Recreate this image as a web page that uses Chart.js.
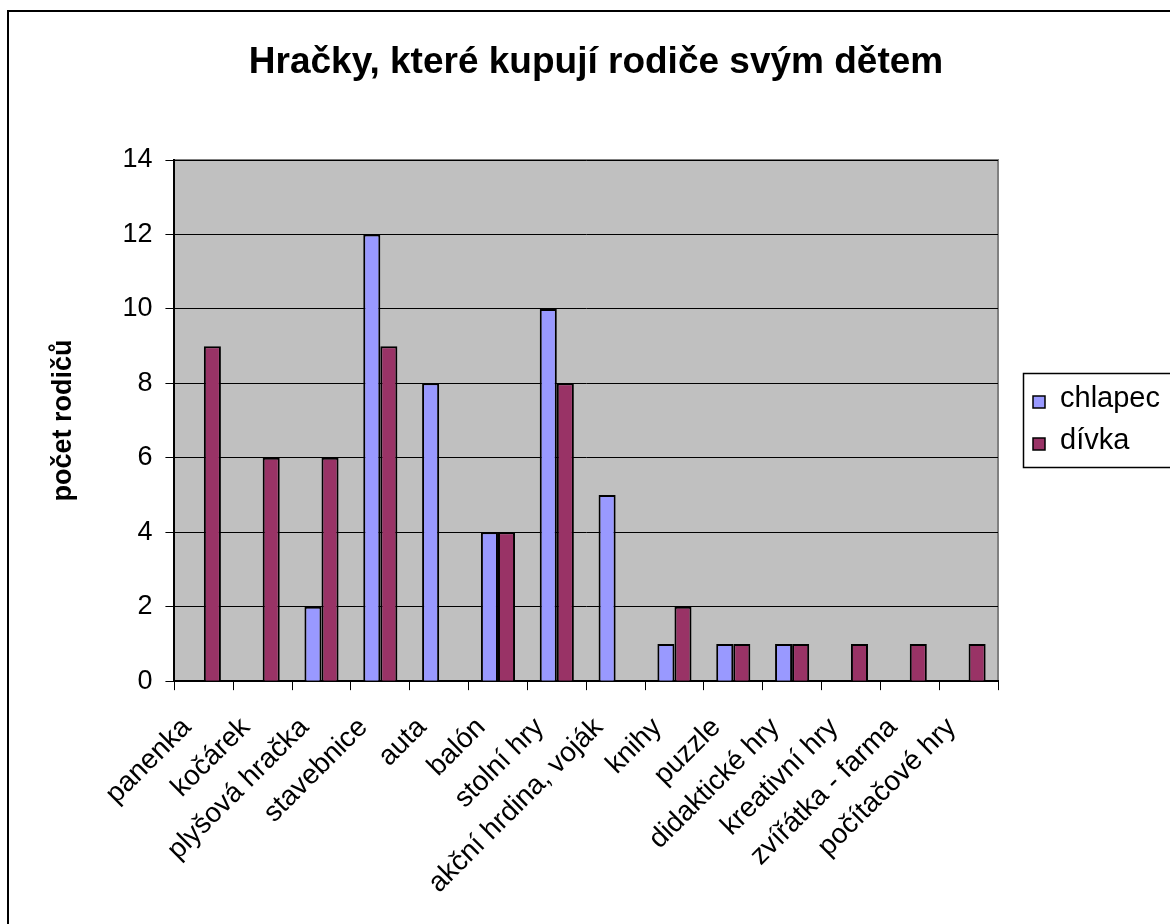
<!DOCTYPE html>
<html>
<head>
<meta charset="utf-8">
<script src="https://cdn.jsdelivr.net/npm/chart.js@4/dist/chart.umd.min.js"></script>
<style>
  html, body { margin: 0; padding: 0; background: #fff; overflow: hidden; }
  #wrap { width: 1170px; height: 924px; position: relative; }
</style>
</head>
<body>
<div id="wrap"><canvas id="toyChart" width="1170" height="924"></canvas></div>
<script>
// Data
const categories = ['panenka', 'kočárek', 'plyšová hračka', 'stavebnice', 'auta', 'balón',
    'stolní hry', 'akční hrdina, voják', 'knihy', 'puzzle', 'didaktické hry',
    'kreativní hry', 'zvířátka - farma', 'počítačové hry'];
const chlapec = [0, 0, 2, 12, 8, 4, 10, 5, 1, 1, 1, 0, 0, 0];
const divka = [9, 6, 6, 9, 0, 4, 8, 0, 2, 1, 1, 1, 1, 1];
const seriesNames = ['chlapec', 'dívka'];
const chartTitle = 'Hračky, které kupují rodiče svým dětem';
const yMin = 0, yMax = 14, yStep = 2;

const FONT = "'Liberation Sans', Arial, sans-serif";

// White page, outer frame, grey plot area
const backdrop = {
    id: 'backdrop',
    beforeDraw: function(chart) {
        const ctx = chart.ctx;
        const a = chart.chartArea;
        ctx.save();
        ctx.fillStyle = '#fff';
        ctx.fillRect(0, 0, chart.width, chart.height);
        ctx.strokeStyle = '#000';
        ctx.lineWidth = 2;
        ctx.beginPath();
        ctx.moveTo(8, chart.height + 5);
        ctx.lineTo(8, 11);
        ctx.lineTo(chart.width + 5, 11);
        ctx.stroke();
        ctx.fillStyle = '#c0c0c0';
        ctx.fillRect(a.left, a.top, a.right - a.left, a.bottom - a.top);
        ctx.strokeStyle = '#808080';
        ctx.beginPath();
        ctx.moveTo(a.left, a.top);
        ctx.lineTo(a.right, a.top);
        ctx.lineTo(a.right, a.bottom);
        ctx.stroke();
        // title, centred on the whole frame rather than the plot
        ctx.fillStyle = '#000';
        ctx.font = 'bold 37px ' + FONT;
        ctx.textAlign = 'center';
        ctx.textBaseline = 'alphabetic';
        ctx.fillText(chartTitle, 596, 73);
        ctx.restore();
    }
};

// Boxed legend on the right, like the original
const boxLegend = {
    id: 'boxLegend',
    afterDraw: function(chart) {
        const ctx = chart.ctx;
        ctx.save();
        ctx.strokeStyle = '#000';
        ctx.lineWidth = 1.5;
        ctx.strokeRect(1023.5, 373.5, 160, 94);
        ctx.font = '29px ' + FONT;
        ctx.textBaseline = 'alphabetic';
        chart.data.datasets.forEach(function(ds, i) {
            const y = 396 + i * 42;
            ctx.fillStyle = ds.backgroundColor;
            ctx.fillRect(1033, y, 12, 12);
            ctx.strokeStyle = '#000';
            ctx.lineWidth = 1.5;
            ctx.strokeRect(1033, y, 12, 12);
            ctx.fillStyle = '#000';
            ctx.fillText(ds.label, 1060, y + 11);
        });
        ctx.restore();
    }
};

const chart = new Chart(document.getElementById('toyChart'), {
    type: 'bar',
    data: {
        labels: categories,
        datasets: [
            {
                label: seriesNames[0],
                data: chlapec,
                backgroundColor: '#9999ff',
                borderColor: '#000',
                borderWidth: 2
            },
            {
                label: seriesNames[1],
                data: divka,
                backgroundColor: '#993366',
                borderColor: '#000',
                borderWidth: 2
            }
        ]
    },
    options: {
        responsive: false,
        animation: false,
        barPercentage: 1.0,
        categoryPercentage: 0.58,
        layout: {
            padding: { left: 47, right: 172, top: 160, bottom: 3 }
        },
        plugins: {
            legend: { display: false },
            tooltip: { enabled: false },
            title: { display: false }
        },
        scales: {
            x: {
                grid: {
                    drawOnChartArea: false,
                    drawTicks: true,
                    tickLength: 9,
                    tickColor: '#000',
                    offset: true
                },
                border: { color: '#000', width: 2 },
                ticks: {
                    color: '#000',
                    font: { family: FONT, size: 28 },
                    minRotation: 45,
                    maxRotation: 45,
                    autoSkip: false,
                    labelOffset: -17,
                    padding: 21
                }
            },
            y: {
                min: yMin,
                max: yMax,
                grid: {
                    color: '#000',
                    lineWidth: 1,
                    drawTicks: true,
                    tickLength: 9,
                    tickColor: '#000'
                },
                border: { color: '#000', width: 2 },
                ticks: {
                    stepSize: yStep,
                    color: '#000',
                    font: { family: FONT, size: 27 },
                    padding: 13
                },
                title: {
                    display: true,
                    text: 'počet rodičů',
                    color: '#000',
                    font: { family: FONT, size: 27, weight: 'bold' },
                    padding: { top: 0, bottom: 30 }
                }
            }
        }
    },
    plugins: [backdrop, boxLegend]
});
</script>
</body>
</html>
